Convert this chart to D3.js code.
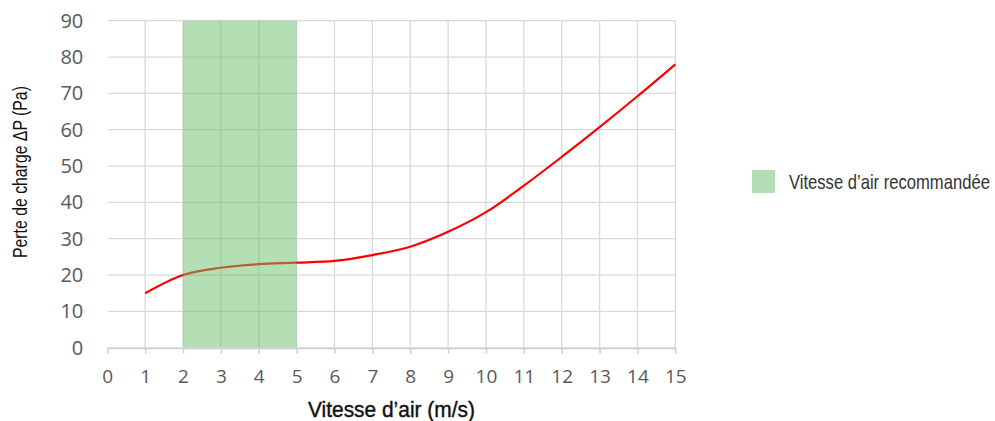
<!DOCTYPE html>
<html><head><meta charset="utf-8">
<script src="https://cdn.jsdelivr.net/npm/d3@7"></script>
<style>
body{margin:0;background:#fff;}
.tick text{font-family:"Open Sans",sans-serif;}
</style></head>
<body><svg id="c" width="995" height="421"></svg>
<script>
const speeds = [1,2,3,4,5,6,7,8,9,10,11,12,13,14,15];
const pressure = [15,20,22,23,23.4,23.9,25.5,27.8,31.9,37.3,44.6,52.5,60.7,69.2,78];
const band = [2,5];
const xTicks = d3.range(0,16);
const yTicks = d3.range(0,100,10);
const xTitle = "Vitesse d\u2019air (m/s)";
const yTitle = "Perte de charge \u0394P (Pa)";
const legendLabel = "Vitesse d\u2019air recommandée";

const svg = d3.select("#c");
const L=107.3, R=675.3, T=20.7, B=347.7;
const x = d3.scaleLinear().domain([0,15]).range([L,R]);
const y = d3.scaleLinear().domain([0,90]).range([B,T]);
const titleFont = '"Liberation Sans",Arial,sans-serif';

// grid
svg.append("g").selectAll("line.v").data(xTicks.slice(1)).join("line")
  .attr("x1",d=>x(d)).attr("x2",d=>x(d)).attr("y1",T).attr("y2",B)
  .attr("stroke","#d9d9d9").attr("stroke-width",1.3);
svg.append("g").selectAll("line.h").data(yTicks.slice(1)).join("line")
  .attr("x1",L).attr("x2",R).attr("y1",d=>y(d)).attr("y2",d=>y(d))
  .attr("stroke","#d9d9d9").attr("stroke-width",1.3);

// line
const line = d3.line().x((d,i)=>x(speeds[i])).y(d=>y(d)).curve(d3.curveMonotoneX);
svg.append("path").datum(pressure).attr("d",line)
  .attr("fill","none").attr("stroke","#ff0000").attr("stroke-width",2.2);

// band (semi-transparent on top)
svg.append("rect").attr("x",x(band[0])).attr("width",x(band[1])-x(band[0]))
  .attr("y",T).attr("height",B-T).attr("fill","rgb(106,190,106)").attr("fill-opacity",0.5);

// x axis
const xa = svg.append("g").attr("transform",`translate(0,${B})`)
  .call(d3.axisBottom(x).tickValues(xTicks).tickSize(6).tickPadding(16).tickSizeOuter(0));
xa.select(".domain").attr("stroke","#d0d0d0").attr("stroke-width",2);
xa.selectAll(".tick line").attr("stroke","#d0d0d0").attr("stroke-width",1.5);
xa.selectAll(".tick text").attr("fill","#595959").style("font-size","19px");

// y axis labels
const ya = svg.append("g").attr("transform",`translate(${L},0)`)
  .call(d3.axisLeft(y).tickValues(yTicks).tickSize(0).tickPadding(24));
ya.select(".domain").remove();
ya.selectAll(".tick text").attr("fill","#595959").style("font-size","20px");

// condensed text helper: scale horizontally to a target width
function narrowText(g, str, size, target, fill) {
  const t = g.append("text").style("font-family",titleFont).style("font-size",size+"px")
    .attr("fill",fill).text(str);
  const w = t.node().getComputedTextLength();
  t.attr("transform",`scale(${target/w},1)`);
  return t;
}

// titles
const gx = svg.append("g").attr("transform","translate(308,417)");
narrowText(gx, xTitle, 22, 167, "#111").attr("stroke","#111").attr("stroke-width",0.4);
const gy = svg.append("g").attr("transform","translate(27,258) rotate(-90)");
narrowText(gy, yTitle, 21, 172, "#111");

// legend
svg.append("rect").attr("x",752).attr("y",170).attr("width",23).attr("height",23)
  .attr("fill","rgb(106,190,106)").attr("fill-opacity",0.5);
const gl = svg.append("g").attr("transform","translate(789,189)");
narrowText(gl, legendLabel, 21, 201, "#333");
</script></body></html>
